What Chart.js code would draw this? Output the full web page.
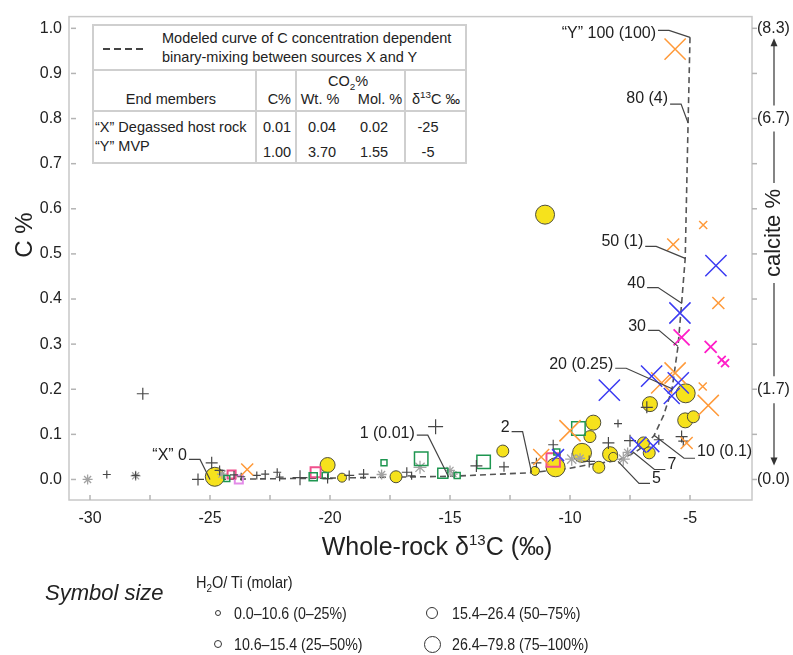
<!DOCTYPE html>
<html><head><meta charset="utf-8">
<script src="https://cdn.jsdelivr.net/npm/chart.js@4"></script>
<style>
html,body{margin:0;padding:0;background:#fff;}
#wrap{position:relative;width:793px;height:655px;font-family:"Liberation Sans",Arial,sans-serif;color:#222;}
#c{position:absolute;left:0;top:0;}
.t{position:absolute;white-space:nowrap;line-height:1;}
.tb{font-size:14.5px;}
.nar{font-size:16.5px;}
.ln{position:absolute;background:#cfcfcf;}
.circ{position:absolute;border:1.3px solid #333;border-radius:50%;box-sizing:border-box;background:#fff;}
sub,sup{font-size:68%;line-height:0;}
</style></head>
<body><div id="wrap"><canvas id="c" width="793" height="655"></canvas></div>
<script>
// ---------- DATA ----------
const xTickValues = [-30,-27.5,-25,-22.5,-20,-17.5,-15,-12.5,-10,-7.5,-5];
const yTickValues = [0,0.1,0.2,0.3,0.4,0.5,0.6,0.7,0.8,0.9,1.0];
const calcitePos = [0,0.2,0.8,1.0];
const calciteLabels = ['(0.0)','(1.7)','(6.7)','(8.3)'];

// modeled binary-mixing curve X -> Y
const mixX = [-25,-20,-15,-11.6,-10,-9.2,-8.0,-7.3,-6.9,-6.5,-6.1,-5.75,-5.5,-5.35,-5.2,-5.08,-5.0];
const mixY = [0.0,0.003,0.007,0.015,0.025,0.033,0.042,0.06,0.075,0.097,0.142,0.2,0.295,0.39,0.49,0.79,0.98];

// curve labels (% Y in mix, (calcite %))
const annLabels = ['\u201CX\u201D 0','1 (0.01)','2','5','7','10 (0.1)','20 (0.25)','30','40','50 (1)','80 (4)','\u201CY\u201D 100 (100)'];
const annX = [-25,-15.05,-11.6,-8.0,-7.4,-6.5,-5.7,-5.5,-5.33,-5.2,-5.08,-5.0];
const annY = [0.0,0.005,0.015,0.04,0.062,0.098,0.2,0.295,0.39,0.49,0.79,0.98];

// symbol size class: 1=0.0-10.6, 2=10.6-15.4, 3=15.4-26.4, 4=26.4-79.8 (H2O/Ti molar)
const plusX = [-29.3,-28.1,-27.8,-25.5,-24.93,-24.6,-24.0,-23.7,-23.05,-22.7,-22.2,-22.1,-21.25,-20.1,-19.2,-18.6,-16.8,-16.6,-15.6,-13.9,-12.75,-11.4,-10.7,-9.2,-8.4,-8.0,-7.5,-6.8,-6.3,-5.35,-5.28];
const plusY = [0.011,0.009,0.19,0.0,0.037,0.02,0.01,0.006,0.009,0.012,0.016,0.005,0.004,0.002,0.009,0.012,0.016,0.008,0.117,0.03,0.028,0.037,0.077,0.04,0.081,0.124,0.086,0.16,0.088,0.095,0.085];
const plusCls = [1,1,3,3,3,2,1,1,1,1,1,1,4,2,2,2,2,1,4,3,2,2,2,3,3,1,3,3,2,3,2];

const starX = [-30.1,-28.1,-24.5,-17.85,-16.25,-15.0,-14.85,-9.93,-9.58,-7.78,-7.6];
const starY = [0.0,0.008,0.012,0.011,0.027,0.02,0.012,0.045,0.047,0.045,0.06];
const starCls = [2,2,2,2,3,2,1,3,2,3,2];

const yelX = [-24.8,-20.1,-19.5,-17.25,-12.8,-11.46,-11.04,-10.6,-9.5,-9.17,-9.03,-8.8,-8.33,-8.2,-6.94,-6.7,-6.67,-5.2,-4.86,-5.18];
const yelY = [0.006,0.032,0.004,0.006,0.063,0.019,0.587,0.027,0.059,0.095,0.126,0.027,0.056,0.05,0.081,0.059,0.167,0.131,0.139,0.191];
const yelCls = [4,3,1,2,2,1,4,4,4,2,3,2,3,1,2,2,3,3,2,4];

const grnX = [-24.3,-20.7,-20.2,-17.75,-16.2,-15.3,-14.7,-13.6,-10.55,-9.65];
const grnY = [0.002,0.006,0.009,0.037,0.046,0.014,0.009,0.039,0.061,0.113];
const grnCls = [1,2,1,1,4,3,1,4,1,4];

const pnkX = [-24.1,-20.6,-10.7];
const pnkY = [0.011,0.016,0.043];
const pnkCls = [2,3,4];

const vioX = [-23.8];
const vioY = [0.0];
const vioCls = [2];

const orX = [-23.45,-11.2,-10.0,-6.18,-5.62,-4.24,-4.47,-5.14,-3.82,-5.7,-4.45,-5.62];
const orY = [0.022,0.05,0.108,0.214,0.236,0.164,0.206,0.081,0.391,0.521,0.564,0.954];
const orCls = [2,3,4,4,4,4,1,2,2,2,1,4];

const blX = [-10.5,-8.36,-7.15,-6.53,-6.6,-5.49,-5.76,-5.42,-3.92];
const blY = [0.054,0.198,0.077,0.074,0.229,0.214,0.185,0.369,0.474];
const blCls = [2,4,3,2,4,4,3,4,4];

const mgX = [-5.35,-4.14,-3.68,-3.54];
const mgY = [0.315,0.294,0.265,0.258];
const mgCls = [3,2,1,1];

// inset table
const endMembers = ['\u201CX\u201D Degassed host rock','\u201CY\u201D MVP'];
const cPct = ['0.01','1.00'];
const co2Wt = ['0.04','3.70'];
const co2Mol = ['0.02','1.55'];
const d13C = ['-25','-5'];
const sizeLegend = ['0.0\u201310.6 (0\u201325%)','10.6\u201315.4 (25\u201350%)','15.4\u201326.4 (50\u201375%)','26.4\u201379.8 (75\u2013100%)'];

// ---------- STYLE / LAYOUT ----------
const R = {
  plus:[0,4,5,6,7.5], star:[0,4,5,6.5,8], circ:[0,4.5,6,7.5,9.5],
  rect:[0,4.2,5.7,7.1,9.5], xr:[0,5.7,8.5,11.3,15]
};
// [dx, dy, text dy] of label leader start relative to anchor pixel
const annLayout = [[-21,-20,-4],[-32,-42,-2],[-20,-41,-4],[32,22,-5],[33,18,-5],[41,23,-7],[-58,-21,-4],[-30,-16,-4],[-35,-16,-4],[-40,-12,-5],[-18,-19,-5],[-32,-7,3]];

const pts = (xs,ys)=>xs.map((x,i)=>({x:x,y:ys[i]}));
const rad = (cls,key)=>cls.map(c=>R[key][c]);
const FONT = '"Liberation Sans", Arial, sans-serif';

function sc(label, xs, ys, cls, style, key, color, bw, order, fill){
  return {label, type:'scatter', data:pts(xs,ys), pointStyle:style, pointRadius:rad(cls,key),
    pointHoverRadius:rad(cls,key), borderColor:color, pointBorderColor:color,
    backgroundColor:fill||'rgba(0,0,0,0)', pointBackgroundColor:fill||'rgba(0,0,0,0)',
    borderWidth:bw, pointBorderWidth:bw, order};
}

const datasets = [
  {label:'mix', type:'line', data:pts(mixX,mixY), borderColor:'#555', borderWidth:1.6, borderDash:[6,4],
   pointRadius:0, tension:0, fill:false, order:7},
  sc('yellow', yelX, yelY, yelCls, 'circle', 'circ', '#4d4d3a', 1, 6, '#f6e21c'),
  sc('star', starX, starY, starCls, 'star', 'star', '#a3a3a3', 1.3, 5),
  sc('green', grnX, grnY, grnCls, 'rect', 'rect', '#1e9650', 1.5, 4),
  sc('pink', pnkX, pnkY, pnkCls, 'rect', 'rect', '#f0508c', 2, 4),
  sc('violet', vioX, vioY, vioCls, 'rect', 'rect', '#e38be8', 2, 4),
  sc('plus', plusX, plusY, plusCls, 'cross', 'plus', '#474747', 1.2, 3),
  sc('orange', orX, orY, orCls, 'crossRot', 'xr', '#ff9a3a', 1.5, 2),
  sc('blue', blX, blY, blCls, 'crossRot', 'xr', '#3b3bf2', 1.5, 1),
  sc('magenta', mgX, mgY, mgCls, 'crossRot', 'xr', '#ff1fc8', 1.8, 1)
];

function seg(ctx,x1,y1,x2,y2){ctx.beginPath();ctx.moveTo(x1,y1);ctx.lineTo(x2,y2);ctx.stroke();}

const decor = {
  id:'decor',
  beforeDatasetsDraw(chart){
    const {ctx, chartArea:a, scales} = chart;
    ctx.save();
    ctx.strokeStyle='#c8c8c8'; ctx.lineWidth=1.5;
    ctx.strokeRect(a.left, a.top, a.right-a.left, a.bottom-a.top);
    ctx.strokeStyle='#b4b4b4';
    xTickValues.forEach(v=>{const p=scales.x.getPixelForValue(v); seg(ctx,p,a.bottom,p,a.bottom-5);});
    yTickValues.forEach(v=>{const p=scales.y.getPixelForValue(v); seg(ctx,a.left+2,p,a.left+7,p);});
    yTickValues.forEach(v=>{const p=scales.y2.getPixelForValue(v); seg(ctx,a.right,p,a.right+5,p);});
    ctx.restore();
  },
  afterDatasetsDraw(chart){
    const {ctx, scales:{x,y}} = chart;
    ctx.save();
    ctx.font = '16px '+FONT; ctx.fillStyle='#222'; ctx.strokeStyle='#444'; ctx.lineWidth=1.2;
    annLabels.forEach((t,i)=>{
      const px=x.getPixelForValue(annX[i]), py=y.getPixelForValue(annY[i]);
      const [dx,dy,tdy]=annLayout[i];
      const sx=px+dx, sy=py+dy, dir=dx<0?1:-1;
      ctx.beginPath(); ctx.moveTo(sx,sy); ctx.lineTo(sx+dir*11,sy); ctx.lineTo(px,py); ctx.stroke();
      ctx.textAlign=dx<0?'right':'left'; ctx.textBaseline='middle';
      ctx.fillText(t, sx-dir*2, sy+tdy);
    });
    ctx.restore();
  },
  afterDraw(chart){
    const {ctx, scales} = chart;
    ctx.save();
    ctx.fillStyle='#222'; ctx.textBaseline='middle';
    // left title
    ctx.save(); ctx.translate(25,235); ctx.rotate(-Math.PI/2);
    ctx.font='24px '+FONT; ctx.textAlign='center'; ctx.fillText('C %',0,0); ctx.restore();
    // right title
    const ax=774, tc=233;
    ctx.save(); ctx.translate(ax,tc); ctx.rotate(-Math.PI/2);
    ctx.font='22px '+FONT; ctx.textAlign='center'; ctx.fillText('calcite %',0,0); ctx.restore();
    // bottom title with superscript
    const f1='25px '+FONT, f2='15px '+FONT;
    const p1='Whole-rock \u03B4', p2='13', p3='C (\u2030)';
    ctx.font=f1; const w1=ctx.measureText(p1).width, w3=ctx.measureText(p3).width;
    ctx.font=f2; const w2=ctx.measureText(p2).width;
    let sx=437-(w1+w2+w3)/2; const ty=548;
    ctx.textAlign='left';
    ctx.font=f1; ctx.fillText(p1,sx,ty); sx+=w1;
    ctx.font=f2; ctx.fillText(p2,sx,ty-7); sx+=w2;
    ctx.font=f1; ctx.fillText(p3,sx,ty);
    // arrow on right axis
    const p=v=>scales.y2.getPixelForValue(v);
    ctx.strokeStyle='#333'; ctx.lineWidth=1.2; ctx.fillStyle='#333';
    const top=p(1)+10, bot=p(0)-14;
    seg(ctx,ax,top+6,ax,p(0.8)-13);
    seg(ctx,ax,p(0.8)+13,ax,tc-50);
    seg(ctx,ax,tc+50,ax,p(0.2)-13);
    seg(ctx,ax,p(0.2)+14,ax,bot-6);
    ctx.beginPath(); ctx.moveTo(ax,top); ctx.lineTo(ax-3.5,top+8); ctx.lineTo(ax+3.5,top+8); ctx.closePath(); ctx.fill();
    ctx.beginPath(); ctx.moveTo(ax,bot); ctx.lineTo(ax-3.5,bot-8); ctx.lineTo(ax+3.5,bot-8); ctx.closePath(); ctx.fill();
    ctx.restore();
  }
};

const near=(a,b)=>Math.abs(a-b)<1e-6;
const gridOff={display:false, drawTicks:false, tickLength:0};
new Chart(document.getElementById('c').getContext('2d'), {
  type:'scatter',
  data:{datasets},
  options:{
    responsive:false, animation:false, devicePixelRatio:1,
    layout:{padding:{top:5,left:0,right:0,bottom:0}},
    plugins:{legend:{display:false}, tooltip:{enabled:false}},
    scales:{
      x:{type:'linear', position:'bottom', min:-30.875, max:-2.417,
        afterBuildTicks:s=>{s.ticks=xTickValues.map(v=>({value:v}));},
        afterFit:s=>{s.height=155;},
        grid:gridOff, border:{display:false},
        ticks:{autoSkip:false, maxRotation:0, padding:9, color:'#222', font:{size:16, family:FONT},
          callback:v=>(near(v%5,0)||near(Math.abs(v%5),5))?String(v):''}},
      y:{type:'linear', position:'left', min:-0.0455, max:1.026,
        afterBuildTicks:s=>{s.ticks=yTickValues.map(v=>({value:v}));},
        afterFit:s=>{s.width=69;},
        grid:gridOff, border:{display:false},
        ticks:{autoSkip:false, padding:7, color:'#222', font:{size:16, family:FONT}, callback:v=>v.toFixed(1)}},
      y2:{type:'linear', position:'right', min:-0.0455, max:1.026,
        afterBuildTicks:s=>{s.ticks=yTickValues.map(v=>({value:v}));},
        afterFit:s=>{s.width=41;},
        grid:gridOff, border:{display:false},
        ticks:{autoSkip:false, padding:5, color:'#222', font:{size:16, family:FONT},
          callback:v=>{const i=calcitePos.findIndex(c=>near(c,v)); return i>=0?calciteLabels[i]:'';}}}
    }
  },
  plugins:[decor]
});

// ---------- HTML overlays (inset table and size legend) ----------
const wrap=document.getElementById('wrap');
function T(html,x,y,align,cls,style,sx){
  const d=document.createElement('div'); d.className='t '+(cls||'');
  d.innerHTML=html; d.style.left=x+'px'; d.style.top=y+'px';
  const ax=align==='center'?'-50%':align==='right'?'-100%':'0';
  d.style.transformOrigin='0 50%';
  d.style.transform='translate('+ax+',-50%)'+(sx?' scaleX('+sx+')':'');
  if(style) d.style.cssText+=style;
  wrap.appendChild(d); return d;
}
function L(x,y,w,h,col){const d=document.createElement('div');d.className='ln';
  d.style.left=x+'px';d.style.top=y+'px';d.style.width=w+'px';d.style.height=h+'px';if(col)d.style.background=col;wrap.appendChild(d);}
// table box
const bx=92, by=24, bw=375, bh=140;
const box=document.createElement('div');
box.style.cssText='position:absolute;left:'+bx+'px;top:'+by+'px;width:'+bw+'px;height:'+bh+'px;border:2px solid #cfcfcf;box-sizing:border-box;background:#fff;';
wrap.appendChild(box);
L(bx,69,bw,2); L(bx,110,bw,2);
L(255,69,2,95); L(295,69,2,95); L(404,69,2,95);
const dash=document.createElement('div');
dash.style.cssText='position:absolute;left:103px;top:48px;width:42px;height:2px;background:repeating-linear-gradient(90deg,#444 0 7px,transparent 7px 11px);';
wrap.appendChild(dash);
T('Modeled curve of C concentration dependent',162,38,'left','tb');
T('binary-mixing between sources X and Y',162,57,'left','tb');
T('CO<sub>2</sub>%',348,81,'center','tb');
T('End members',171,99,'center','tb');
T('C%',291,99,'right','tb');
T('Wt. %',320,99,'center','tb');
T('Mol. %',380,99,'center','tb');
T('\u03B4<sup>13</sup>C \u2030',436,99,'center','tb');
const rowY=[127,152];
endMembers.forEach((n,i)=>{
  T(n,95,i===0?127:146,'left','tb');
  T(cPct[i],277,rowY[i],'center','tb');
  T(co2Wt[i],322,rowY[i],'center','tb');
  T(co2Mol[i],374,rowY[i],'center','tb');
  T(d13C[i],428,rowY[i],'center','tb');
});
// size legend
T('Symbol size',45,593,'left','', 'font-size:22px;font-style:italic;');
T('H<sub>2</sub>O/ Ti (molar)',196,582,'left','nar','',0.88);
const legR=[3,4,6,8.5], legCX=[218,218,432,432], legCY=[613,644,613,644], legTX=[234,234,452,452];
sizeLegend.forEach((s,i)=>{
  const c=document.createElement('div'); c.className='circ';
  const d=legR[i]*2; c.style.width=d+'px'; c.style.height=d+'px';
  c.style.left=(legCX[i]-legR[i])+'px'; c.style.top=(legCY[i]-legR[i])+'px';
  wrap.appendChild(c);
  T(s,legTX[i],legCY[i],'left','nar','',0.86);
});
</script></body></html>
